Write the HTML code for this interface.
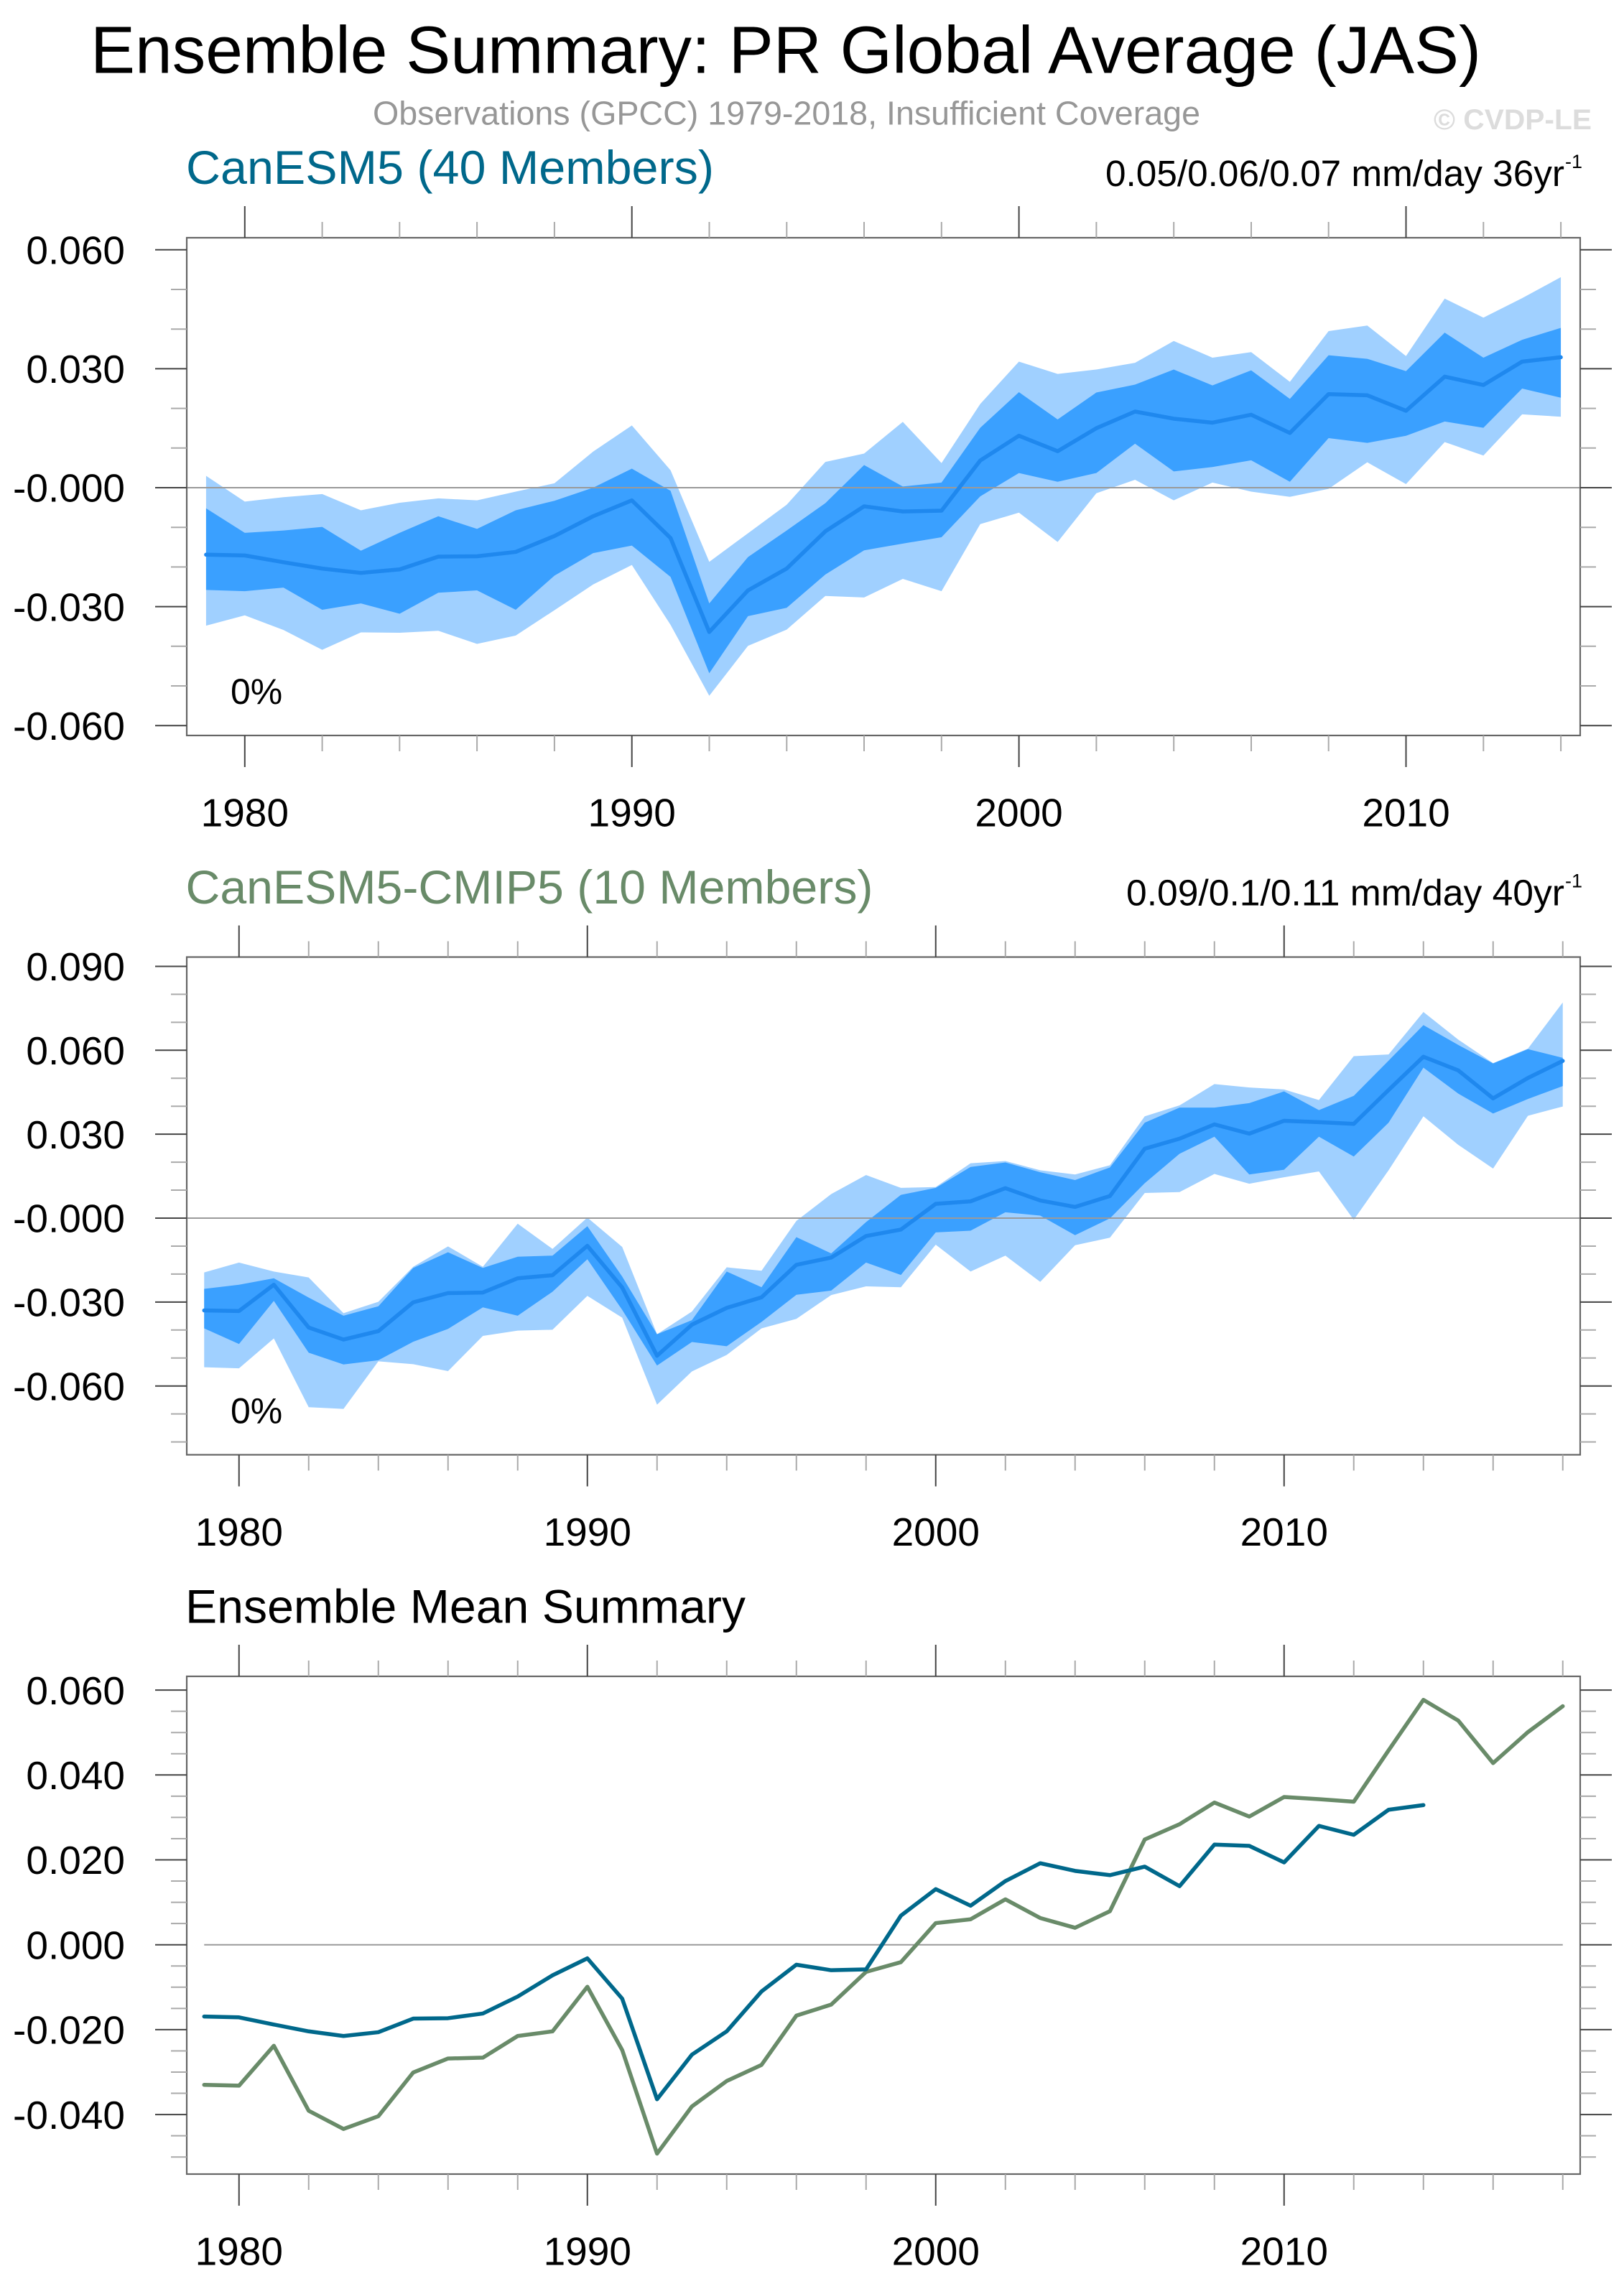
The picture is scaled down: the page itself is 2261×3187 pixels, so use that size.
<!DOCTYPE html>
<html>
<head>
<meta charset="utf-8">
<style>
html,body{margin:0;padding:0;background:#fff;}
svg{display:block;}
text{font-family:"Liberation Sans",Arial,Helvetica,sans-serif;}
</style>
</head>
<body>
<svg xmlns="http://www.w3.org/2000/svg" width="2261" height="3187" viewBox="0 0 2261 3187">
<rect x="0" y="0" width="2261" height="3187" fill="#fff"/>

<!-- Titles -->
<text x="126" y="101.7" font-size="93" fill="#000" textLength="1936" lengthAdjust="spacingAndGlyphs">Ensemble Summary: PR Global Average (JAS)</text>
<text x="519" y="173.3" font-size="46" fill="#979797" textLength="1152" lengthAdjust="spacingAndGlyphs">Observations (GPCC) 1979-2018, Insufficient Coverage</text>
<text x="1996" y="180" font-size="40" font-weight="bold" fill="#dcdcdc" textLength="220" lengthAdjust="spacingAndGlyphs">© CVDP-LE</text>

<!-- ================= PANEL 1 ================= -->
<text x="259" y="256" font-size="66" fill="#00688B" textLength="735" lengthAdjust="spacingAndGlyphs">CanESM5 (40 Members)</text>
<text x="1539" y="259" font-size="51" fill="#000" textLength="639" lengthAdjust="spacingAndGlyphs">0.05/0.06/0.07 mm/day 36yr</text>
<text x="2179" y="234" font-size="27" fill="#000">-1</text>

<g transform="matrix(53.89,0,0,-5.52,286.9,679)">
<polygon fill="#a0d0ff" points="0,3.0 1,-3.5 2,-2.4 3,-1.6 4,-5.7 5,-3.8 6,-2.7 7,-3.2 8,-1.0 9,1.1 10,9.1 11,15.7 12,4.4 13,-18.7 14,-11.5 15,-4.3 16,6.5 17,8.6 18,16.6 19,6.2 20,21.1 21,31.8 22,28.7 23,29.8 24,31.5 25,37.0 26,32.8 27,34.2 28,26.7 29,39.5 30,40.9 31,33.2 32,47.7 33,42.9 34,47.8 35,53.1 35,17.9 34,18.5 33,8.1 32,11.5 31,0.9 30,6.4 29,-0.3 28,-2.3 27,-1.0 26,1.3 25,-3.2 24,2.0 23,-1.4 22,-13.7 21,-6.3 20,-9.2 19,-26.1 18,-23.0 17,-27.7 16,-27.3 15,-35.8 14,-39.9 13,-52.5 12,-34.6 11,-19.5 10,-24.4 9,-30.9 8,-37.3 7,-39.4 6,-36.1 5,-36.6 4,-36.5 3,-40.9 2,-35.9 1,-32.2 0,-34.8"/>
<polygon fill="#3aa0ff" points="0,-5.2 1,-11.4 2,-10.8 3,-9.9 4,-15.9 5,-11.4 6,-7.2 7,-10.4 8,-5.7 9,-3.3 10,0 11,4.8 12,-0.8 13,-29.2 14,-17.5 15,-10.8 16,-3.9 17,5.7 18,0.3 19,1.3 20,15.1 21,24.1 22,17.2 23,24.0 24,26.0 25,29.8 26,25.8 27,29.6 28,22.4 29,33.4 30,32.5 31,29.4 32,39.1 33,32.8 34,37.3 35,40.3 35,22.7 34,25.0 33,15.1 32,16.7 31,13.1 30,11.3 29,12.5 28,1.5 27,6.9 26,5.2 25,4.1 24,11.1 23,3.7 22,1.5 21,3.7 20,-2.2 19,-12.5 18,-14.1 17,-15.8 16,-21.9 15,-30.3 14,-32.4 13,-46.8 12,-22.5 11,-14.6 10,-16.5 9,-22.2 8,-30.8 7,-25.9 6,-26.5 5,-31.8 4,-29.2 3,-30.8 2,-25.2 1,-26.1 0,-25.8"/>
</g>
<path d="M260 679H2200" stroke="#9a9a9a" stroke-width="2" fill="none"/>
<g transform="matrix(53.89,0,0,-5.52,286.9,679)">
<polyline fill="none" stroke="#1f88ee" stroke-width="5.5" stroke-linejoin="round" stroke-linecap="round" vector-effect="non-scaling-stroke" points="0,-16.9 1,-17.1 2,-18.8 3,-20.4 4,-21.5 5,-20.6 6,-17.4 7,-17.3 8,-16.2 9,-12.2 10,-7.2 11,-3.2 12,-12.7 13,-36.4 14,-25.9 15,-20.4 16,-11.0 17,-4.7 18,-6.0 19,-5.8 20,6.85 21,13.1 22,9.2 23,15.0 24,19.2 25,17.4 26,16.4 27,18.4 28,13.8 29,23.6 30,23.3 31,19.4 32,28.0 33,25.9 34,31.8 35,32.9"/>
</g>
<!-- frame & ticks panel 1 -->
<rect x="260" y="331" width="1940" height="693" fill="none" stroke="#666" stroke-width="2.2"/>
<path stroke="#aaa" stroke-width="2" fill="none" d="M238 403H260M238 458.2H260M238 568.6H260M238 623.8H260M238 734.2H260M238 789.4H260M238 899.8H260M238 955H260M2200 403H2222M2200 458.2H2222M2200 568.6H2222M2200 623.8H2222M2200 734.2H2222M2200 789.4H2222M2200 899.8H2222M2200 955H2222M448.6 309V331M556.3 309V331M664.1 309V331M771.9 309V331M987.5 309V331M1095.3 309V331M1203 309V331M1310.8 309V331M1526.4 309V331M1634.2 309V331M1742 309V331M1849.7 309V331M2065.3 309V331M2173.1 309V331M448.6 1024V1046M556.3 1024V1046M664.1 1024V1046M771.9 1024V1046M987.5 1024V1046M1095.3 1024V1046M1203 1024V1046M1310.8 1024V1046M1526.4 1024V1046M1634.2 1024V1046M1742 1024V1046M1849.7 1024V1046M2065.3 1024V1046M2173.1 1024V1046"/>
<path stroke="#444" stroke-width="2" fill="none" d="M216 347.8H260M216 513.4H260M216 679H260M216 844.6H260M216 1010.2H260M2200 347.8H2244M2200 513.4H2244M2200 679H2244M2200 844.6H2244M2200 1010.2H2244M340.8 287V331M879.7 287V331M1418.6 287V331M1957.5 287V331M340.8 1024V1068M879.7 1024V1068M1418.6 1024V1068M1957.5 1024V1068"/>
<g font-size="55" fill="#000" text-anchor="end">
<text x="174" y="367.5">0.060</text>
<text x="174" y="533.1">0.030</text>
<text x="174" y="698.7">-0.000</text>
<text x="174" y="864.3">-0.030</text>
<text x="174" y="1029.9">-0.060</text>
</g>
<g font-size="55" fill="#000" text-anchor="middle">
<text x="340.8" y="1150.5">1980</text>
<text x="879.7" y="1150.5">1990</text>
<text x="1418.6" y="1150.5">2000</text>
<text x="1957.5" y="1150.5">2010</text>
</g>
<text x="321" y="980" font-size="50" fill="#000">0%</text>

<!-- ================= PANEL 2 ================= -->
<text x="258.5" y="1258" font-size="66" fill="#698B69" textLength="957" lengthAdjust="spacingAndGlyphs">CanESM5-CMIP5 (10 Members)</text>
<text x="1568" y="1260.7" font-size="51" fill="#000" textLength="610" lengthAdjust="spacingAndGlyphs">0.09/0.1/0.11 mm/day 40yr</text>
<text x="2179" y="1235.7" font-size="27" fill="#000">-1</text>

<g transform="matrix(48.5,0,0,-3.895,284.25,1696)">
<polygon fill="#a0d0ff" points="0,-19.4 1,-15.9 2,-19.1 3,-21.2 4,-34.0 5,-29.9 6,-17.4 7,-10.1 8,-17.4 9,-2.0 10,-11.0 11,0.2 12,-10.3 13,-41.5 14,-33.4 15,-17.6 16,-18.8 17,-1.0 18,8.6 19,15.4 20,10.8 21,11.1 22,19.6 23,20.4 24,17.1 25,15.6 26,18.9 27,36.4 28,40.3 29,47.9 30,46.7 31,46.0 32,42.2 33,57.9 34,58.5 35,73.7 36,63.8 37,55.4 38,60.6 39,77.1 39,39.9 38,36.6 37,17.7 36,26.2 35,36.4 34,17.1 33,-0.6 32,16.7 31,14.6 30,12.3 29,15.8 28,9.3 27,9.0 26,-7.0 25,-9.7 24,-22.8 23,-13.4 22,-19.1 21,-9.5 20,-24.7 19,-24.4 18,-27.5 17,-36.0 16,-39.4 15,-48.9 14,-54.8 13,-66.7 12,-35.6 11,-27.8 10,-39.9 9,-40.2 8,-42.1 7,-54.7 6,-52.2 5,-51.2 4,-68.2 3,-67.6 2,-43.0 1,-53.7 0,-53.3"/>
<polygon fill="#3aa0ff" points="0,-25.3 1,-23.8 2,-21.5 3,-28.4 4,-34.9 5,-31.5 6,-17.8 7,-12.2 8,-17.8 9,-13.8 10,-13.4 11,-2.9 12,-20.9 13,-41.5 14,-36.5 15,-19.1 16,-24.7 17,-6.8 18,-12.6 19,-1.4 20,8.3 21,10.8 22,18.3 23,19.9 24,16.4 25,13.6 26,18.1 27,34.1 28,39.5 29,39.5 30,41.1 31,45.3 32,38.6 33,43.7 34,56.3 35,69.0 36,61.9 37,55.3 38,60.4 39,57.3 39,47.2 38,42.6 37,37.4 36,44.5 35,53.8 34,34.1 33,22.0 32,29.1 31,17.3 30,15.6 29,29.1 28,23.0 27,12.5 26,-0.1 25,-6.1 24,0.9 23,2.1 22,-4.5 21,-5.1 20,-20.3 19,-15.9 18,-25.9 17,-27.4 16,-37.1 15,-45.8 14,-44.3 13,-52.7 12,-32.8 11,-14.7 10,-26.3 9,-34.9 8,-31.9 7,-39.6 6,-44.2 5,-50.8 4,-52.3 3,-48.1 2,-29.6 1,-45.0 0,-39.4"/>
</g>
<path d="M260 1696H2200" stroke="#9a9a9a" stroke-width="2" fill="none"/>
<g transform="matrix(48.5,0,0,-3.895,284.25,1696)">
<polyline fill="none" stroke="#1f88ee" stroke-width="5.5" stroke-linejoin="round" stroke-linecap="round" vector-effect="non-scaling-stroke" points="0,-33.0 1,-33.2 2,-23.8 3,-39.1 4,-43.4 5,-40.4 6,-30.1 7,-26.8 8,-26.6 9,-21.5 10,-20.4 11,-9.9 12,-24.8 13,-49.2 14,-38.1 15,-32.1 16,-28.3 17,-16.7 18,-14.1 19,-6.4 20,-4.1 21,5.1 22,6.0 23,10.7 24,6.3 25,4.0 26,7.9 27,24.8 28,28.4 29,33.5 30,30.2 31,34.8 32,34.3 33,33.7 34,45.8 35,57.7 36,52.8 37,42.8 38,50.1 39,56.2"/>
</g>
<rect x="260" y="1332.5" width="1940" height="693" fill="none" stroke="#666" stroke-width="2.2"/>
<path stroke="#aaa" stroke-width="2" fill="none" d="M238 1384.4H260M238 1423.35H260M238 1501.25H260M238 1540.2H260M238 1618.1H260M238 1657.05H260M238 1734.95H260M238 1773.9H260M238 1851.8H260M238 1890.75H260M238 1968.65H260M238 2007.6H260M2200 1384.4H2222M2200 1423.35H2222M2200 1501.25H2222M2200 1540.2H2222M2200 1618.1H2222M2200 1657.05H2222M2200 1734.95H2222M2200 1773.9H2222M2200 1851.8H2222M2200 1890.75H2222M2200 1968.65H2222M2200 2007.6H2222M429.75 1310.5V1332.5M526.75 1310.5V1332.5M623.75 1310.5V1332.5M720.75 1310.5V1332.5M914.75 1310.5V1332.5M1011.75 1310.5V1332.5M1108.75 1310.5V1332.5M1205.75 1310.5V1332.5M1399.75 1310.5V1332.5M1496.75 1310.5V1332.5M1593.75 1310.5V1332.5M1690.75 1310.5V1332.5M1884.75 1310.5V1332.5M1981.75 1310.5V1332.5M2078.75 1310.5V1332.5M2175.75 1310.5V1332.5M429.75 2025.5V2047.5M526.75 2025.5V2047.5M623.75 2025.5V2047.5M720.75 2025.5V2047.5M914.75 2025.5V2047.5M1011.75 2025.5V2047.5M1108.75 2025.5V2047.5M1205.75 2025.5V2047.5M1399.75 2025.5V2047.5M1496.75 2025.5V2047.5M1593.75 2025.5V2047.5M1690.75 2025.5V2047.5M1884.75 2025.5V2047.5M1981.75 2025.5V2047.5M2078.75 2025.5V2047.5M2175.75 2025.5V2047.5"/>
<path stroke="#444" stroke-width="2" fill="none" d="M216 1345.45H260M216 1462.3H260M216 1579.15H260M216 1696H260M216 1812.85H260M216 1929.7H260M2200 1345.45H2244M2200 1462.3H2244M2200 1579.15H2244M2200 1696H2244M2200 1812.85H2244M2200 1929.7H2244M332.75 1288.5V1332.5M817.75 1288.5V1332.5M1302.75 1288.5V1332.5M1787.75 1288.5V1332.5M332.75 2025.5V2069.5M817.75 2025.5V2069.5M1302.75 2025.5V2069.5M1787.75 2025.5V2069.5"/>
<g font-size="55" fill="#000" text-anchor="end">
<text x="174" y="1365.15">0.090</text>
<text x="174" y="1482">0.060</text>
<text x="174" y="1598.85">0.030</text>
<text x="174" y="1715.7">-0.000</text>
<text x="174" y="1832.55">-0.030</text>
<text x="174" y="1949.4">-0.060</text>
</g>
<g font-size="55" fill="#000" text-anchor="middle">
<text x="332.75" y="2152">1980</text>
<text x="817.75" y="2152">1990</text>
<text x="1302.75" y="2152">2000</text>
<text x="1787.75" y="2152">2010</text>
</g>
<text x="321" y="1981.5" font-size="50" fill="#000">0%</text>

<!-- ================= PANEL 3 ================= -->
<text x="258" y="2259.5" font-size="66" fill="#000" textLength="780" lengthAdjust="spacingAndGlyphs">Ensemble Mean Summary</text>
<path d="M284.25 2707.7H2175.75" stroke="#9a9a9a" stroke-width="2" fill="none"/>
<g transform="matrix(48.5,0,0,-5.91,284.25,2707.7)">
<polyline fill="none" stroke="#698B69" stroke-width="5.5" stroke-linejoin="round" stroke-linecap="round" vector-effect="non-scaling-stroke" points="0,-33.0 1,-33.2 2,-23.8 3,-39.1 4,-43.4 5,-40.4 6,-30.1 7,-26.8 8,-26.6 9,-21.5 10,-20.4 11,-9.9 12,-24.8 13,-49.2 14,-38.1 15,-32.1 16,-28.3 17,-16.7 18,-14.1 19,-6.4 20,-4.1 21,5.1 22,6.0 23,10.7 24,6.3 25,4.0 26,7.9 27,24.8 28,28.4 29,33.5 30,30.2 31,34.8 32,34.3 33,33.7 34,45.8 35,57.7 36,52.8 37,42.8 38,50.1 39,56.2"/>
<polyline fill="none" stroke="#00688B" stroke-width="5.5" stroke-linejoin="round" stroke-linecap="round" vector-effect="non-scaling-stroke" points="0,-16.9 1,-17.1 2,-18.8 3,-20.4 4,-21.5 5,-20.6 6,-17.4 7,-17.3 8,-16.2 9,-12.2 10,-7.2 11,-3.2 12,-12.7 13,-36.4 14,-25.9 15,-20.4 16,-11.0 17,-4.7 18,-6.0 19,-5.8 20,6.85 21,13.1 22,9.2 23,15.0 24,19.2 25,17.4 26,16.4 27,18.4 28,13.8 29,23.6 30,23.3 31,19.4 32,28.0 33,25.9 34,31.8 35,32.9"/>
</g>
<rect x="260" y="2334" width="1940" height="693" fill="none" stroke="#666" stroke-width="2.2"/>
<path stroke="#aaa" stroke-width="2" fill="none" d="M238 2382.65H260M238 2412.2H260M238 2441.75H260M238 2500.85H260M238 2530.4H260M238 2559.95H260M238 2619.05H260M238 2648.6H260M238 2678.15H260M238 2737.25H260M238 2766.8H260M238 2796.35H260M238 2855.45H260M238 2885H260M238 2914.55H260M238 2973.65H260M238 3003.2H260M2200 2382.65H2222M2200 2412.2H2222M2200 2441.75H2222M2200 2500.85H2222M2200 2530.4H2222M2200 2559.95H2222M2200 2619.05H2222M2200 2648.6H2222M2200 2678.15H2222M2200 2737.25H2222M2200 2766.8H2222M2200 2796.35H2222M2200 2855.45H2222M2200 2885H2222M2200 2914.55H2222M2200 2973.65H2222M2200 3003.2H2222M429.75 2312V2334M526.75 2312V2334M623.75 2312V2334M720.75 2312V2334M914.75 2312V2334M1011.75 2312V2334M1108.75 2312V2334M1205.75 2312V2334M1399.75 2312V2334M1496.75 2312V2334M1593.75 2312V2334M1690.75 2312V2334M1884.75 2312V2334M1981.75 2312V2334M2078.75 2312V2334M2175.75 2312V2334M429.75 3027V3049M526.75 3027V3049M623.75 3027V3049M720.75 3027V3049M914.75 3027V3049M1011.75 3027V3049M1108.75 3027V3049M1205.75 3027V3049M1399.75 3027V3049M1496.75 3027V3049M1593.75 3027V3049M1690.75 3027V3049M1884.75 3027V3049M1981.75 3027V3049M2078.75 3027V3049M2175.75 3027V3049"/>
<path stroke="#444" stroke-width="2" fill="none" d="M216 2353.1H260M216 2471.3H260M216 2589.5H260M216 2707.7H260M216 2825.9H260M216 2944.1H260M2200 2353.1H2244M2200 2471.3H2244M2200 2589.5H2244M2200 2707.7H2244M2200 2825.9H2244M2200 2944.1H2244M332.75 2290V2334M817.75 2290V2334M1302.75 2290V2334M1787.75 2290V2334M332.75 3027V3071M817.75 3027V3071M1302.75 3027V3071M1787.75 3027V3071"/>
<g font-size="55" fill="#000" text-anchor="end">
<text x="174" y="2372.8">0.060</text>
<text x="174" y="2491">0.040</text>
<text x="174" y="2609.2">0.020</text>
<text x="174" y="2727.4">0.000</text>
<text x="174" y="2845.6">-0.020</text>
<text x="174" y="2963.8">-0.040</text>
</g>
<g font-size="55" fill="#000" text-anchor="middle">
<text x="332.75" y="3153.5">1980</text>
<text x="817.75" y="3153.5">1990</text>
<text x="1302.75" y="3153.5">2000</text>
<text x="1787.75" y="3153.5">2010</text>
</g>
</svg>
</body>
</html>
